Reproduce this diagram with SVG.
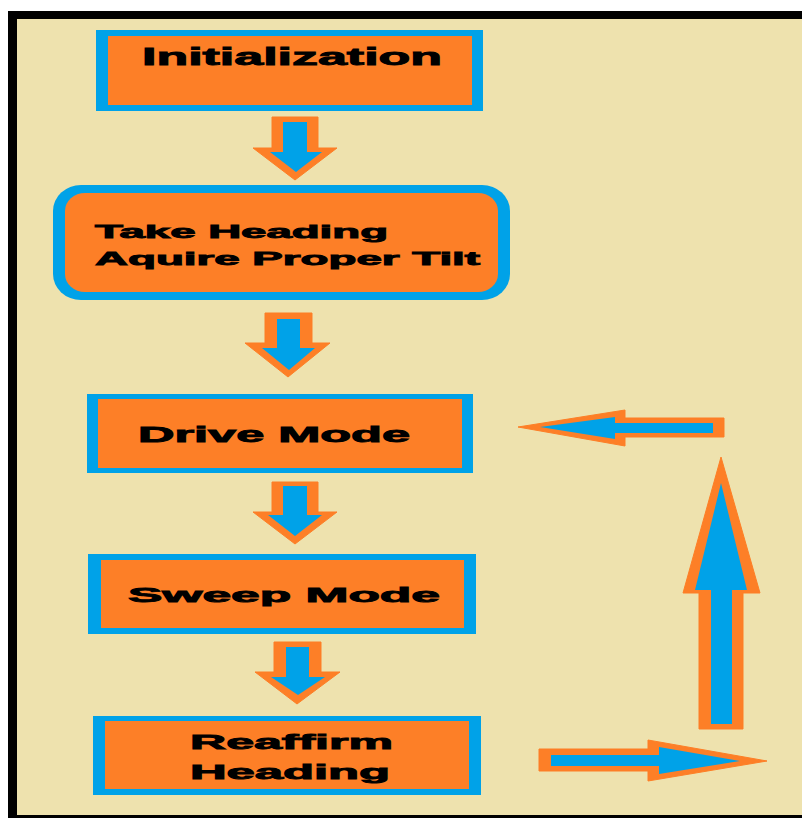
<svg xmlns="http://www.w3.org/2000/svg" width="802" height="818" viewBox="0 0 802 818">
<style>
.blue{fill:#00A2E8}
.orange{fill:#FD7F27}
.lbl{font-family:"Liberation Sans",Arial,sans-serif;font-weight:bold;fill:#000;stroke:#000;stroke-width:0.9}
.ao{fill:#FD7F27;stroke:#FD7F27;stroke-width:1;stroke-linejoin:round}
.ai{fill:#00A2E8}
</style>
<rect x="0" y="0" width="802" height="818" fill="#fff"/>
<rect x="8" y="11" width="794" height="807" fill="#000"/>
<rect x="17" y="19" width="785" height="796" fill="#EEE2AE"/>

<g id="n1">
<rect class="blue" x="96" y="30" width="387" height="81"/>
<rect class="orange" x="108" y="36" width="364" height="69"/>
<text class="lbl" x="142" y="65" font-size="24" textLength="300" lengthAdjust="spacingAndGlyphs">Initialization</text>
</g>

<g id="n2">
<rect class="blue" x="53" y="185" width="457" height="115" rx="28" ry="26"/>
<rect class="orange" x="65" y="193" width="433" height="99" rx="20" ry="18"/>
<text class="lbl" x="95" y="238" font-size="19" textLength="293" lengthAdjust="spacingAndGlyphs">Take Heading</text>
<text class="lbl" x="95" y="265" font-size="19" textLength="385" lengthAdjust="spacingAndGlyphs">Aquire Proper Tilt</text>
</g>

<g id="n3">
<rect class="blue" x="87" y="394" width="386" height="79"/>
<rect class="orange" x="98" y="399" width="364" height="69"/>
<text class="lbl" x="138" y="442" font-size="22" textLength="272" lengthAdjust="spacingAndGlyphs">Drive Mode</text>
</g>

<g id="n4">
<rect class="blue" x="88" y="554" width="388" height="80"/>
<rect class="orange" x="101" y="560" width="363" height="68"/>
<text class="lbl" x="128" y="602" font-size="21" textLength="312" lengthAdjust="spacingAndGlyphs">Sweep Mode</text>
</g>

<g id="n5">
<rect class="blue" x="93" y="716" width="388" height="79"/>
<rect class="orange" x="105" y="721" width="364" height="68"/>
<text class="lbl" x="190" y="749" font-size="21" textLength="203" lengthAdjust="spacingAndGlyphs">Reaffirm</text>
<text class="lbl" x="190" y="779" font-size="21" textLength="200" lengthAdjust="spacingAndGlyphs">Heading</text>
</g>

<g id="connectors">
<g id="a1">
<polygon class="ao" points="272,117 318,117 318,148 337,148 295,180 253,148 272,148"/>
<polygon class="ai" points="283,122 307,122 307,152 322,152 296,172 270,152 283,152"/>
</g>
<g id="a2">
<polygon class="ao" points="265,313 312,313 312,343 330,343 288,377 245,343 265,343"/>
<polygon class="ai" points="277,319 300,319 300,348 315,348 289,370 262,348 277,348"/>
</g>
<g id="a3">
<polygon class="ao" points="272,482 318,482 318,512 337,512 295,544 253,512 272,512"/>
<polygon class="ai" points="283,486 307,486 307,515 322,515 295,536 268,515 283,515"/>
</g>
<g id="a4">
<polygon class="ao" points="274,642 321,642 321,672 340,672 297,704 255,672 274,672"/>
<polygon class="ai" points="286,647 309,647 309,677 325,677 298,695 271,677 286,677"/>
</g>
<g id="a5">
<polygon class="ao" points="539,749 648,749 648,740 767,761 648,781 648,771 539,771"/>
<polygon class="ai" points="551,755 659,755 659,747 740,761 659,774 659,766 551,766"/>
</g>
<g id="a6">
<polygon class="ao" points="721,457 760,593 743,593 743,729 699,729 699,593 683,593"/>
<polygon class="ai" points="721,483 747,590 732,590 732,724 711,724 711,590 695,590"/>
</g>
<g id="a7">
<polygon class="ao" points="518,427 625,410 625,418 724,418 724,437 625,437 625,446"/>
<polygon class="ai" points="540,427 615,417 615,423 713,423 713,433 615,433 615,439"/>
</g>
</g>
</svg>
